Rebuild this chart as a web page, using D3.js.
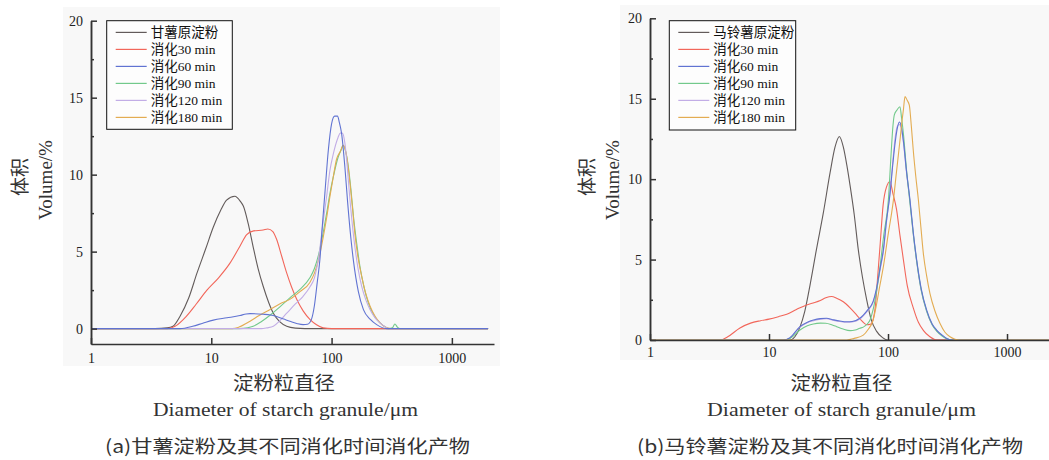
<!DOCTYPE html>
<html>
<head>
<meta charset="utf-8">
<script src="https://cdn.jsdelivr.net/npm/d3@7"></script>
<style>
  body { margin: 0; background: #fff; }
  text { font-family: "Liberation Serif", "Noto Sans CJK SC", serif; }
</style>
</head>
<body>
<svg id="chart" width="1049" height="460"></svg>
<script>
// legend labels
var namesA = ["甘薯原淀粉", "消化30 min", "消化60 min", "消化90 min", "消化120 min", "消化180 min"];
var namesB = ["马铃薯原淀粉", "消化30 min", "消化60 min", "消化90 min", "消化120 min", "消化180 min"];
var colors = ["#625b5a", "#f2665a", "#6073d2", "#72c98b", "#c2ade6", "#e3ac52"];

var xTicks = [1, 10, 100, 1000];
var yTicks = [0, 5, 10, 15, 20];
var yMinor = [2.5, 7.5, 12.5, 17.5];

// (a) sweet potato starch: [diameter um, volume %]
var a0 = [[1,0],[3.4,0],[4.3,0.05],[4.8,0.15],[5.5,0.8],[6.5,2.0],[7.6,3.6],[9,5.2],[10.4,6.6],[12,7.7],[13.4,8.35],[15.7,8.6],[17.5,8.25],[18.5,7.95],[20.3,6.8],[22.3,5.3],[24.5,3.9],[27,2.75],[30,1.7],[32.8,1.0],[37,0.45],[42.4,0.15],[50,0.03],[60,0],[2000,0]];
var a30 = [[1,0],[4.3,0],[5,0.15],[6.2,0.8],[7.5,1.6],[9.2,2.5],[11.5,3.3],[14.3,4.25],[17.3,5.35],[19.7,6.1],[22.5,6.35],[27,6.4],[29.5,6.47],[32.5,6.3],[34.9,5.8],[38.5,4.7],[42.4,3.6],[46.5,2.7],[51.3,1.9],[58,1.15],[66,0.6],[75,0.25],[85,0.05],[100,0],[2000,0]];
var a60 = [[1,0],[5.5,0],[7,0.15],[8.5,0.35],[10.4,0.55],[13.5,0.7],[17.3,0.85],[19.5,0.95],[21,0.97],[27,0.93],[31,0.88],[34.9,0.78],[40,0.62],[45,0.48],[52,0.32],[58,0.26],[63,0.28],[68,0.6],[72,1.5],[76,3.0],[80,4.5],[84,6.8],[88,8.8],[94,11.6],[100,13.3],[106,13.8],[112,13.8],[116,13.4],[121,12.7],[129,10.5],[136,8.2],[145,5.8],[152,4.4],[167,2.4],[184,1.23],[210,0.6],[237,0.26],[288,0],[2000,0]];
var a90 = [[1,0],[17,0],[20,0.05],[22.3,0.15],[26,0.45],[30.6,0.85],[37,1.4],[45,2.0],[54.6,2.55],[66,3.3],[72,3.9],[78,4.8],[85,6.2],[91,7.5],[97,8.8],[103,9.8],[113,11.1],[120,11.6],[125,11.9],[131,11.5],[138,10.5],[145,9.0],[152,7.3],[162,5.5],[172,4.05],[186,2.7],[202,1.67],[225,0.85],[253,0.37],[280,0.1],[300,0],[320,0.05],[336,0.3],[352,0.1],[370,0],[2000,0]];
var a120 = [[1,0],[26,0],[29,0.05],[32.8,0.15],[37,0.5],[42.4,1.0],[50,1.6],[58,2.1],[66,2.7],[72,3.3],[78,4.6],[84,6.6],[91,8.6],[97,10.3],[103,11.3],[113,12.4],[118,12.7],[123,12.7],[129,12.05],[135,10.5],[142,8.4],[149,6.7],[156,5.35],[166,3.9],[178,2.75],[192,1.9],[209,1.23],[230,0.7],[253,0.37],[280,0.1],[300,0],[2000,0]];
var a180 = [[1,0],[15,0],[17,0.1],[21,0.48],[25,0.85],[30.6,1.23],[37,1.6],[45,1.9],[54.6,2.4],[66,3.0],[72,3.6],[78,4.5],[85,5.9],[91,7.2],[97,8.6],[103,9.8],[110,11.0],[118,11.5],[125,11.9],[132,11.4],[142,9.5],[149,7.9],[156,6.2],[166,4.6],[178,3.4],[192,2.3],[209,1.45],[230,0.8],[253,0.37],[280,0.1],[310,0],[2000,0]];

// (b) potato starch
var b0 = [[1,0],[15,0],[16.5,0.2],[18.2,0.8],[20,1.8],[22.1,3.4],[25,5.6],[28.6,7.9],[32.6,10.4],[35.9,12.0],[39,12.65],[42.1,12.0],[45,10.9],[48,9.6],[52,7.8],[56.3,5.6],[61,3.9],[66.2,2.5],[72,1.3],[80,0.55],[90,0.15],[100,0],[2500,0]];
var b30 = [[1,0],[3.9,0],[4.5,0.2],[5.7,0.75],[7,1.05],[8.5,1.2],[10,1.3],[12,1.45],[14.1,1.6],[17,1.9],[20.7,2.18],[23.5,2.3],[27,2.45],[30,2.62],[33.6,2.7],[37,2.6],[42.1,2.38],[48,2.0],[54.6,1.55],[60,1.2],[66.2,0.95],[72,1.0],[78,2.0],[82,4.0],[86,6.0],[91,8.4],[97,9.5],[104,9.85],[110,9.1],[118,8.1],[126,6.5],[134.6,5.0],[145,3.4],[163,2.0],[180,1.1],[198,0.6],[225,0.2],[256,0],[2500,0]];
var b60 = [[1,0],[13.2,0],[15,0.15],[18.2,0.83],[21,1.1],[23.6,1.24],[27,1.33],[30.4,1.35],[35,1.25],[39.4,1.18],[45,1.13],[50,1.15],[58,1.35],[62,1.55],[68,1.9],[75,2.4],[80,3.2],[86,4.5],[91.4,5.6],[97,7.4],[104,9.1],[110,11.0],[114.5,12.2],[120,13.2],[124.5,13.55],[129,13.3],[134.6,12.4],[143,10.5],[153,8.7],[163,6.7],[174,5.0],[190,3.2],[211,1.87],[235,1.0],[256,0.62],[285,0.3],[311,0.1],[350,0],[2500,0]];
var b90 = [[1,0],[13.2,0],[15,0.1],[18.2,0.62],[21,0.88],[23.6,1.0],[27,1.05],[30,1.04],[34,0.93],[37,0.83],[42,0.68],[48,0.58],[53,0.62],[58,0.73],[62,0.8],[66,0.95],[70.6,1.24],[75,1.9],[80,3.0],[85.7,4.56],[92,6.5],[100.7,8.7],[106,11.5],[110,13.3],[113,14.0],[119,14.3],[126,14.5],[130,13.8],[134.6,12.85],[143,10.6],[153,8.5],[163,6.6],[174,4.9],[190,3.1],[211,1.8],[235,0.95],[256,0.55],[285,0.25],[311,0.08],[350,0],[2500,0]];
var b120 = [[1,0],[13.5,0],[15,0.12],[18.2,0.8],[21,1.08],[23.6,1.2],[27,1.3],[30.4,1.32],[35,1.22],[39.4,1.15],[45,1.1],[50,1.12],[58,1.3],[62,1.5],[68,1.85],[75,2.35],[80,3.1],[86,4.4],[91.4,5.5],[97,7.3],[104,9.2],[110,11.2],[114.5,12.5],[120,13.3],[124.5,13.4],[129,13.2],[134.6,12.3],[143,10.4],[153,8.6],[163,6.6],[174,4.9],[190,3.1],[211,1.8],[235,0.95],[256,0.6],[285,0.28],[311,0.1],[350,0],[2500,0]];
var b180 = [[1,0],[45,0],[52,0.1],[62,0.3],[68,0.65],[75,1.24],[80,2.2],[85,3.3],[91.4,4.56],[100,6.5],[111,8.7],[118,10.5],[126,12.4],[131,13.6],[134.6,14.3],[139,15.13],[145,14.9],[151,14.6],[157,13.3],[163,11.8],[171,10.2],[180,8.7],[189,7.0],[198,5.4],[211,4.0],[225,2.9],[248,1.8],[273,1.04],[300,0.5],[332,0.2],[365,0.05],[403,0],[2500,0]];

var seriesA = [a0, a30, a60, a90, a120, a180];
var seriesB = [b0, b30, b60, b90, b120, b180];

var svg = d3.select("#chart");

function drawPanel(p) {
  // light grey picture background
  svg.append("rect")
    .attr("x", p.bg[0]).attr("y", p.bg[1])
    .attr("width", p.bg[2]).attr("height", p.bg[3])
    .attr("fill", "#f8f8f8");

  var x = d3.scaleLog().domain([1, 2240]).range([p.x0, p.x1]);
  var y = d3.scaleLinear().domain([p.yMin, 20]).range([p.y0, p.y1]);

  var line = d3.line()
    .x(d => x(d[0]))
    .y(d => y(d[1]))
    .curve(d3.curveMonotoneX);

  var clip = "clip" + p.id;
  svg.append("clipPath").attr("id", clip)
    .append("rect").attr("x", p.x0).attr("y", 0)
    .attr("width", p.x1 - p.x0).attr("height", p.y0);

  // draw order so the overlapping curves look like the original
  var g = svg.append("g").attr("clip-path", "url(#" + clip + ")");
  p.order.forEach(function(i) {
    g.append("path")
      .attr("d", line(p.series[i]))
      .attr("fill", "none")
      .attr("stroke", colors[i])
      .attr("stroke-width", 1.1);
  });

  var yAxis = d3.axisLeft(y).tickValues(yTicks).tickSize(-6).tickSizeOuter(0).tickPadding(8);
  var yAxisMinor = d3.axisLeft(y).tickValues(yMinor).tickSize(-3).tickSizeOuter(0).tickFormat("");
  var xAxis = d3.axisBottom(x).tickValues(xTicks).tickSize(-6).tickSizeOuter(0)
    .tickPadding(p.xPad).tickFormat(d3.format("d"));

  svg.append("g").attr("transform", `translate(${p.x0},0)`).call(yAxisMinor);
  svg.append("g").attr("transform", `translate(${p.x0},0)`).call(yAxis);
  svg.append("g").attr("transform", `translate(0,${p.y0})`).call(xAxis);

  svg.selectAll(".domain, .tick line").attr("stroke", "#333").attr("stroke-width", 1.5);
  svg.selectAll(".tick text").attr("font-size", 14).attr("fill", "#222")
    .style("font-family", "Liberation Serif");

  // legend
  var lg = svg.append("g");
  lg.append("rect")
    .attr("x", p.leg[0]).attr("y", p.leg[1])
    .attr("width", p.leg[2]).attr("height", p.leg[3])
    .attr("fill", "#fdfdfd").attr("stroke", "#111").attr("stroke-width", 1);
  p.names.forEach(function(n, i) {
    var yy = p.leg[1] + 11.7 + i * 17;
    lg.append("line")
      .attr("x1", p.leg[0] + 9).attr("x2", p.leg[0] + 40)
      .attr("y1", yy).attr("y2", yy)
      .attr("stroke", colors[i]).attr("stroke-width", 1.2);
    lg.append("text")
      .attr("x", p.leg[0] + 44).attr("y", yy + 5)
      .attr("font-size", 13.5).attr("fill", "#111")
      .text(n);
  });

  // y title
  svg.append("text")
    .attr("transform", `translate(${p.ytx[0]},177) rotate(-90)`)
    .attr("text-anchor", "middle").attr("dy", "0.35em")
    .attr("font-size", 19).attr("fill", "#333")
    .style("font-family", "Noto Sans CJK SC")
    .text("体积");
  svg.append("text")
    .attr("transform", `translate(${p.ytx[1]},180) rotate(-90)`)
    .attr("text-anchor", "middle").attr("dy", "0.35em")
    .attr("font-size", 19).attr("fill", "#333")
    .text("Volume/%");

  // x title and caption
  svg.append("text")
    .attr("x", p.xt[0]).attr("y", 390)
    .attr("text-anchor", "middle").attr("font-size", 19).attr("fill", "#333")
    .attr("textLength", 102).attr("lengthAdjust", "spacingAndGlyphs")
    .style("font-family", "Noto Sans CJK SC")
    .text("淀粉粒直径");
  svg.append("text")
    .attr("x", p.xt[1]).attr("y", 416)
    .attr("text-anchor", "middle").attr("font-size", 19).attr("fill", "#333")
    .attr("textLength", p.xt[2]).attr("lengthAdjust", "spacingAndGlyphs")
    .text("Diameter of starch granule/μm");
  svg.append("text")
    .attr("x", p.cap[0]).attr("y", 453)
    .attr("text-anchor", "middle").attr("font-size", 18).attr("fill", "#333")
    .attr("textLength", p.cap[1]).attr("lengthAdjust", "spacingAndGlyphs")
    .style("font-family", "Noto Sans CJK SC")
    .text(p.caption);
}

drawPanel({
  id: "a", series: seriesA, names: namesA, order: [0, 1, 3, 5, 4, 2],
  bg: [63, 7, 437, 359],
  x0: 91, x1: 494, y0: 344, y1: 20.7, yMin: -1, xPad: 9,
  leg: [106.7, 20.7, 125.6, 108.6],
  ytx: [20, 45],
  xt: [284, 285.5, 265],
  cap: [287.5, 365], caption: "(a)甘薯淀粉及其不同消化时间消化产物"
});

drawPanel({
  id: "b", series: seriesB, names: namesB, order: [0, 1, 4, 3, 2, 5],
  bg: [620, 5, 429, 355],
  x0: 650, x1: 1048.7, y0: 340, y1: 18.3, yMin: 0, xPad: 7,
  leg: [669.3, 20.7, 126.4, 109.3],
  ytx: [587, 612],
  xt: [841.5, 841.5, 269],
  cap: [830, 386], caption: "(b)马铃薯淀粉及其不同消化时间消化产物"
});
</script>
</body>
</html>
